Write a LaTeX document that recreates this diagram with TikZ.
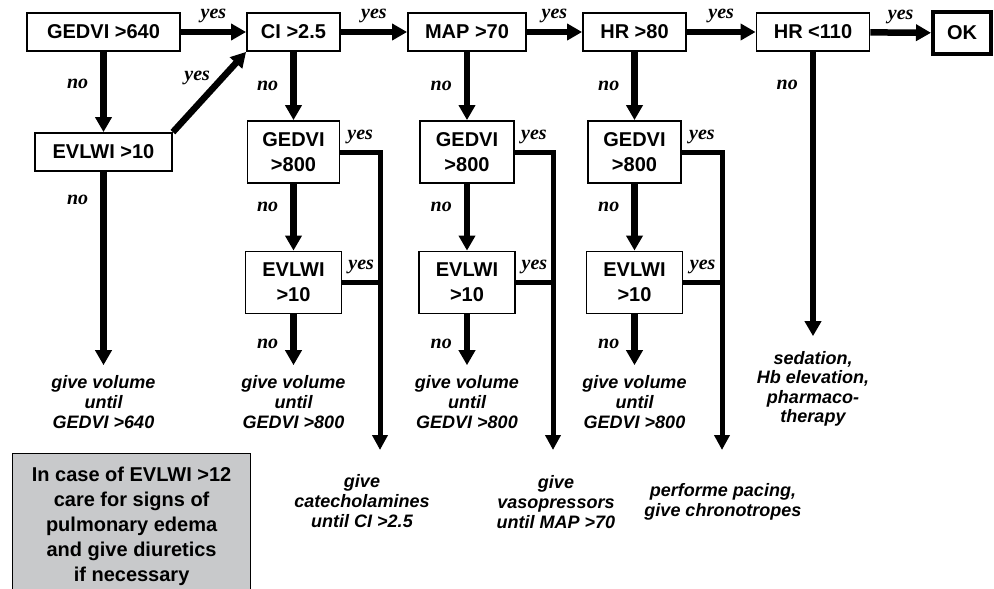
\documentclass[tikz,border=0pt]{standalone}
\usepackage{fontspec}
\setmainfont{Liberation Sans}
\newfontfamily\ansfont{Liberation Serif}
\usetikzlibrary{arrows.meta}
\definecolor{notegray}{RGB}{200,201,203}

\begin{document}
\begin{tikzpicture}[x=1pt, y=-1pt,
    box/.style={draw, line width=1.8pt, inner sep=0pt, align=center,
        minimum height=38pt, font=\fontsize{20}{25}\selectfont\bfseries},
    tall/.style={box, minimum height=62pt},
    flow/.style={line width=6.5pt, line join=miter, -{Triangle[length=15pt,width=16pt]}},
    bus/.style={line width=5pt, line join=miter},
    ans/.style={font=\fontsize{20}{22}\selectfont\ansfont\bfseries\itshape, inner sep=1pt},
    todo/.style={align=center, inner sep=2pt,
        font=\fontsize{18}{20}\selectfont\bfseries\itshape}]
  \useasboundingbox (0,0) rectangle (994,589);
  \clip (0,0) rectangle (994,589);

  % top row of checks
  \node[box, minimum width=153pt] (gedviA) at (103.5,32) {GEDVI >640};
  \node[box, minimum width=93pt] (ci) at (293.5,32) {CI >2.5};
  \node[box, minimum width=118pt] (map) at (467,32) {MAP >70};
  \node[box, minimum width=103pt] (hrhigh) at (634.5,32) {HR >80};
  \node[box, minimum width=113pt] (hrlow) at (813,32) {HR <110};
  \node[box, line width=4pt, minimum width=58pt, minimum height=42pt] (ok) at (962,33) {OK};
  \node[box, minimum width=137pt] (evlwiA) at (103.5,152) {EVLWI >10};

  % the three columns below
  \node[tall, minimum width=92pt] (gedviB) at (293.5,152) {GEDVI\\>800};
  \node[tall, minimum width=94pt] (gedviC) at (467,152) {GEDVI\\>800};
  \node[tall, minimum width=93pt] (gedviD) at (634.5,152) {GEDVI\\>800};
  \node[tall, minimum width=96pt] (evlwiB) at (293.5,282.5) {EVLWI\\>10};
  \node[tall, minimum width=96pt] (evlwiC) at (467,282.5) {EVLWI\\>10};
  \node[tall, minimum width=96pt] (evlwiD) at (634.5,282.5) {EVLWI\\>10};

  % what to do
  \node[todo] (volA) at (103.5,402) {give volume\\until\\GEDVI >640};
  \node[todo] (volB) at (293.5,402) {give volume\\until\\GEDVI >800};
  \node[todo] (volC) at (467,402) {give volume\\until\\GEDVI >800};
  \node[todo] (volD) at (634.5,402) {give volume\\until\\GEDVI >800};
  \node[todo, font=\fontsize{18}{19.5}\selectfont\bfseries\itshape] (sedation) at (813,389)
      {sedation,\\Hb elevation,\\pharmaco-\\therapy};
  \node[todo] (cate) at (362,501) {give\\catecholamines\\until CI >2.5};
  \node[todo] (vaso) at (556,502) {give\\vasopressors\\until MAP >70};
  \node[todo] (pacing) at (723,502) {performe pacing,\\give chronotropes};
  \coordinate (tipB) at (380,450);
  \coordinate (tipC) at (553,450);
  \coordinate (tipD) at (722,450);

  \node[draw, fill=notegray, line width=1.2pt, anchor=north west, inner sep=0pt,
      minimum width=238pt, minimum height=145pt, align=center,
      font=\fontsize{20}{25}\selectfont\bfseries] (note) at (12,453)
      {In case of EVLWI >12\\care for signs of\\pulmonary edema\\and give diuretics\\if necessary};

  % yes along the top
  \draw[flow] (gedviA) -- (ci) node[ans, midway, above=5pt] {yes};
  \draw[flow] (ci) -- (map) node[ans, midway, above=5pt] {yes};
  \draw[flow] (map) -- (hrhigh) node[ans, midway, above=5pt] {yes};
  \draw[flow] (hrhigh) -- (hrlow) node[ans, midway, above=5pt] {yes};
  \draw[flow] (hrlow) -- (ok) node[ans, midway, above=5pt] {yes};

  % no going down
  \draw[flow] (gedviA) -- (evlwiA) node[ans, pos=0.4, left=11pt] {no};
  \draw[flow] (evlwiA.north east) -- (ci.south west) node[ans, pos=0.55, above left=-1pt] {yes};
  \draw[flow, shorten >=8pt] (evlwiA) -- (volA) node[ans, pos=0.14, left=11pt] {no};
  \draw[flow, shorten >=13pt] (hrlow) -- (sedation) node[ans, pos=0.11, left=11pt] {no};
  \foreach \top/\mid/\low/\vol in {ci/gedviB/evlwiB/volB, map/gedviC/evlwiC/volC,
      hrhigh/gedviD/evlwiD/volD} {
    \draw[flow] (\top) -- (\mid) node[ans, midway, left=11pt] {no};
    \draw[flow] (\mid) -- (\low) node[ans, pos=0.35, left=11pt] {no};
    \draw[flow, shorten >=8pt] (\low) -- (\vol) node[ans, midway, left=11pt] {no};
  }

  % yes branches to the drugs
  \foreach \mid/\low/\tip in {gedviB/evlwiB/tipB, gedviC/evlwiC/tipC, gedviD/evlwiD/tipD} {
    \draw[bus, -{Triangle[length=15pt,width=15pt]}] (\mid.east) -| (\tip)
        node[ans, pos=0.25, above=5pt] {yes};
    \draw[bus] (\low.east) -- (\low.east -| \tip) node[ans, midway, above=5pt] {yes};
  }
\end{tikzpicture}
\end{document}
